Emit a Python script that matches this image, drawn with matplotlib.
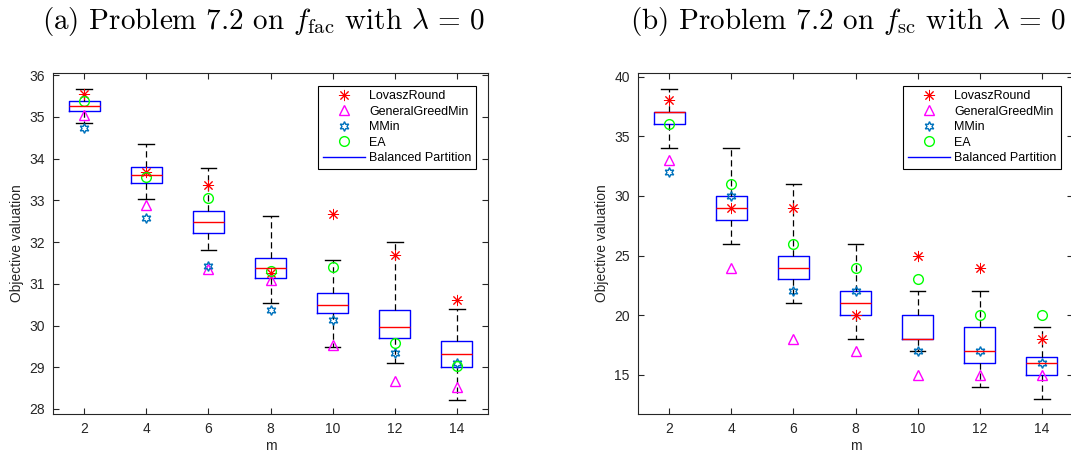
import numpy as np
import matplotlib.pyplot as plt

plt.rcParams['font.family'] = ['Liberation Sans', 'DejaVu Sans']
plt.rcParams['mathtext.fontset'] = 'cm'

m = [2, 4, 6, 8, 10, 12, 14]

# (a) f_fac : box statistics of the balanced partitions
fac_lo = [34.86, 33.02, 31.81, 30.53, 29.49, 29.11, 28.22]
fac_q1 = [35.15, 33.41, 32.22, 31.14, 30.29, 29.71, 29.01]
fac_med = [35.27, 33.60, 32.47, 31.38, 30.49, 29.97, 29.31]
fac_q3 = [35.39, 33.80, 32.74, 31.62, 30.77, 30.36, 29.62]
fac_hi = [35.67, 34.36, 33.77, 32.62, 31.57, 31.99, 30.40]
fac_lovasz = [35.54, 33.68, 33.36, 31.25, 32.66, 31.68, 30.62]
fac_ggm = [35.05, 32.89, 31.36, 31.09, 29.53, 28.67, 28.53]
fac_mmin = [34.73, 32.57, 31.42, 30.38, 30.14, 29.35, 29.11]
fac_ea = [35.38, 33.56, 33.05, 31.30, 31.39, 29.59, 29.03]

# (b) f_sc
sc_lo = [34, 26, 21, 18, 17, 14, 13]
sc_q1 = [36, 28, 23, 20, 18, 16, 15]
sc_med = [37, 29, 24, 21, 18, 17, 16]
sc_q3 = [37, 30, 25, 22, 20, 19, 16.5]
sc_hi = [39, 34, 31, 26, 22, 22, 19]
sc_lovasz = [38, 29, 29, 20, 25, 24, 18]
sc_ggm = [33, 24, 18, 17, 15, 15, 15]
sc_mmin = [32, 30, 22, 22, 17, 17, 16]
sc_ea = [36, 31, 26, 24, 23, 20, 20]

titles = [r'(a) Problem 7.2 on $f_{\mathrm{fac}}$ with $\lambda\,=\,0$',
          r'(b) Problem 7.2 on $f_{\mathrm{sc}}$ with $\lambda\,=\,0$']

dark = '#262626'
mmin_col = '#0072BD'

fig = plt.figure(figsize=(10.71, 4.53), dpi=100)
ax1 = fig.add_axes([53/1071, 1-414/453, 435/1071, 341/453])
ax2 = fig.add_axes([638/1071, 1-414/453, 435/1071, 341/453])


def panel(ax, lo, q1, med, q3, hi, lov, ggm, mmin, ea, ylim, yticks):
    stats = []
    for i in range(len(m)):
        stats.append(dict(whislo=lo[i], q1=q1[i], med=med[i], q3=q3[i],
                          whishi=hi[i], fliers=[]))
    ax.bxp(stats, positions=m, widths=1.0, capwidths=0.5, showfliers=False,
           boxprops=dict(color='blue', lw=1.0),
           medianprops=dict(color='red', lw=1.0),
           whiskerprops=dict(color='black', lw=0.9, dashes=(5, 3)),
           capprops=dict(color='black', lw=1.0), manage_ticks=False)
    h1, = ax.plot(m, lov, ls='none', marker=(8, 2, 0), ms=8, mec='red',
                  mew=0.7, color='red', label='LovaszRound')
    h2, = ax.plot(m, ggm, ls='none', marker='^', ms=7, mfc='none', mec='magenta',
                  mew=1.0, label='GeneralGreedMin')
    h3, = ax.plot(m, mmin, ls='none', marker=(6, 1, 0), ms=7, mfc='none',
                  mec=mmin_col, mew=1.0, label='MMin')
    h4, = ax.plot(m, ea, ls='none', marker='o', ms=7, mfc='none', mec='#00FF00',
                  mew=1.0, label='EA')
    h5, = ax.plot([], [], color='blue', lw=1.0, label='Balanced Partition')
    ax.set_xlim(1, 15)
    ax.set_ylim(*ylim)
    ax.set_xticks(m)
    ax.set_yticks(yticks)
    ax.tick_params(direction='in', top=True, right=True, length=4, width=0.8,
                   colors=dark, labelsize=10, pad=6)
    for s in ax.spines.values():
        s.set_color(dark)
        s.set_linewidth(0.8)
    ax.set_xlabel('m', fontsize=10, color=dark)
    ax.xaxis.set_label_coords(0.5, -0.072)
    ax.set_ylabel('Objective valuation', fontsize=10, color=dark)
    ax.yaxis.set_label_coords(-0.067, 0.5)
    leg = ax.legend(handles=[h1, h2, h3, h4, h5], loc='upper right',
                    bbox_to_anchor=(0.972, 0.962), fontsize=9, labelspacing=0.28,
                    handlelength=3.4, handletextpad=0.3, borderpad=0.35,
                    borderaxespad=0, fancybox=False, framealpha=1)
    leg.get_frame().set_edgecolor('black')
    leg.get_frame().set_linewidth(0.8)


panel(ax1, fac_lo, fac_q1, fac_med, fac_q3, fac_hi, fac_lovasz, fac_ggm,
      fac_mmin, fac_ea, (27.88, 36.05), range(28, 37))
panel(ax2, sc_lo, sc_q1, sc_med, sc_q3, sc_hi, sc_lovasz, sc_ggm,
      sc_mmin, sc_ea, (11.73, 40.3), range(15, 41, 5))

fig.text(263/1071, 1-22/453, titles[0], ha='center', va='center', fontsize=21,
         family='cmr10')
fig.text(848/1071, 1-22/453, titles[1], ha='center', va='center', fontsize=21,
         family='cmr10')

fig.savefig('out.png', dpi=100)
